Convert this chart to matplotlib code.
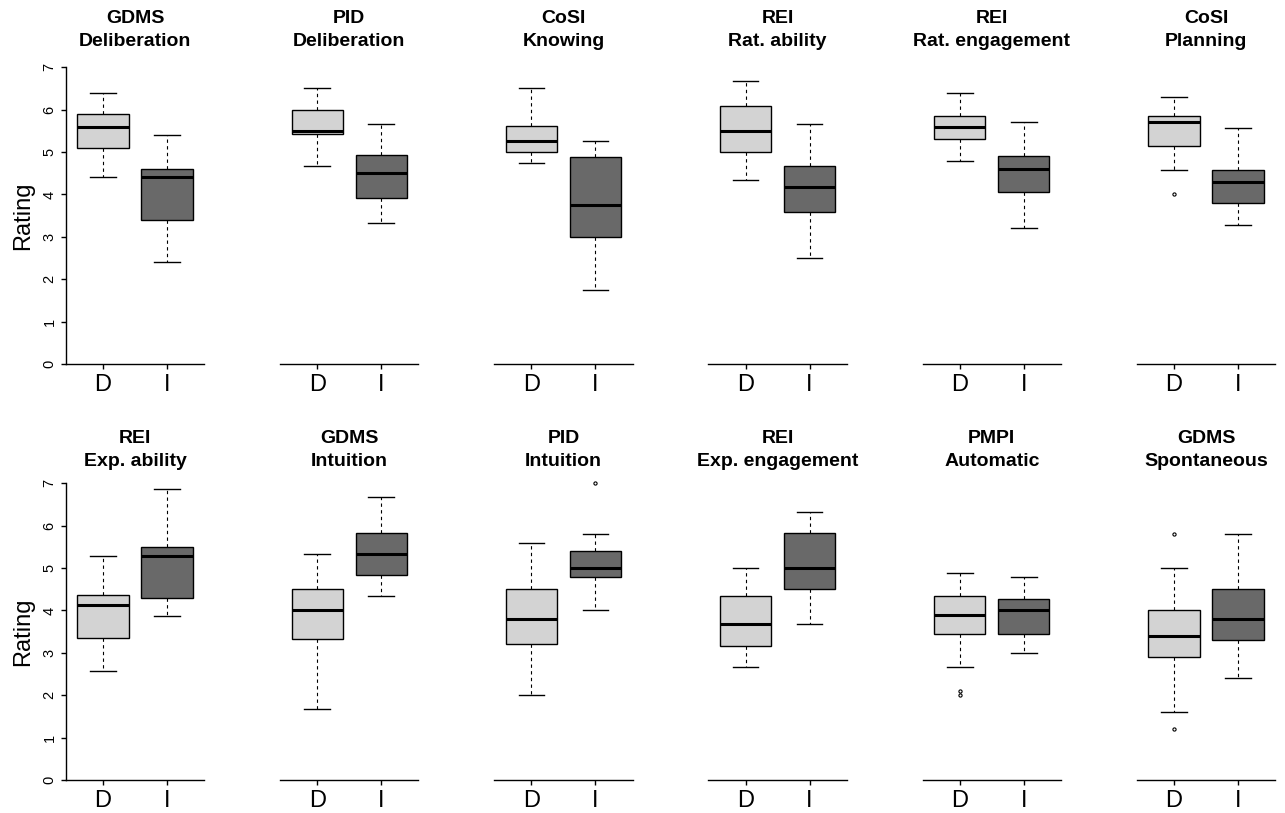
import numpy as np
import matplotlib
matplotlib.use("Agg")
import matplotlib.pyplot as plt

plt.rcParams['font.family'] = ['Liberation Sans', 'DejaVu Sans']

scale_top = ['GDMS', 'PID', 'CoSI', 'REI', 'REI', 'CoSI',
             'REI', 'GDMS', 'PID', 'REI', 'PMPI', 'GDMS']
scale_sub = ['Deliberation', 'Deliberation', 'Knowing', 'Rat. ability', 'Rat. engagement', 'Planning',
             'Exp. ability', 'Intuition', 'Intuition', 'Exp. engagement', 'Automatic', 'Spontaneous']
groups = ['D', 'I']

# D group: lower whisker, Q1, median, Q3, upper whisker
d_lo  = [4.40, 4.67, 4.75, 4.33, 4.80, 4.57, 2.57, 1.67, 2.00, 2.67, 2.67, 1.60]
d_q1  = [5.10, 5.42, 5.00, 5.00, 5.30, 5.14, 3.36, 3.33, 3.20, 3.17, 3.44, 2.90]
d_med = [5.60, 5.50, 5.25, 5.50, 5.60, 5.71, 4.14, 4.00, 3.80, 3.67, 3.89, 3.40]
d_q3  = [5.90, 6.00, 5.62, 6.08, 5.85, 5.86, 4.36, 4.50, 4.50, 4.33, 4.33, 4.00]
d_hi  = [6.40, 6.50, 6.50, 6.67, 6.40, 6.29, 5.29, 5.33, 5.60, 5.00, 4.89, 5.00]
d_out = [[], [], [], [], [], [4.0], [], [], [], [], [2.0, 2.11], [1.2, 5.8]]

# I group
i_lo  = [2.40, 3.33, 1.75, 2.50, 3.20, 3.29, 3.86, 4.33, 4.00, 3.67, 3.00, 2.40]
i_q1  = [3.40, 3.92, 3.00, 3.58, 4.05, 3.79, 4.29, 4.83, 4.80, 4.50, 3.44, 3.30]
i_med = [4.40, 4.50, 3.75, 4.17, 4.60, 4.29, 5.29, 5.33, 5.00, 5.00, 4.00, 3.80]
i_q3  = [4.60, 4.92, 4.88, 4.67, 4.90, 4.57, 5.50, 5.83, 5.40, 5.83, 4.28, 4.50]
i_hi  = [5.40, 5.67, 5.25, 5.67, 5.70, 5.57, 6.86, 6.67, 5.80, 6.33, 4.78, 5.80]
i_out = [[], [], [], [], [], [], [], [], [7.0], [], [], []]

W, H = 1285, 813
fig = plt.figure(figsize=(W / 100, H / 100), dpi=100)

row_top = [55.4, 471.4]
row_bot = [375.9, 791.9]
title_base = [46, 466]

for k in range(12):
    r, c = k // 6, k % 6
    x0 = 65.9 + 214.2 * c
    ax = fig.add_axes([x0 / W, 1 - row_bot[r] / H, 138.2 / W, (row_bot[r] - row_top[r]) / H])
    stats = [
        dict(whislo=d_lo[k], q1=d_q1[k], med=d_med[k], q3=d_q3[k], whishi=d_hi[k], fliers=d_out[k]),
        dict(whislo=i_lo[k], q1=i_q1[k], med=i_med[k], q3=i_q3[k], whishi=i_hi[k], fliers=i_out[k]),
    ]
    bp = ax.bxp(stats, positions=[1, 2], widths=0.8, capwidths=0.4, patch_artist=True,
                boxprops=dict(edgecolor='black', linewidth=1.0),
                medianprops=dict(color='black', linewidth=2.2, solid_capstyle='butt'),
                whiskerprops=dict(color='black', linewidth=0.8, linestyle=(0, (3, 3))),
                capprops=dict(color='black', linewidth=1.0),
                flierprops=dict(marker='o', markersize=2.3, markerfacecolor='none',
                                markeredgecolor='black', markeredgewidth=0.8))
    for patch, col in zip(bp['boxes'], ['#d3d3d3', '#696969']):
        patch.set_facecolor(col)

    ax.set_xlim(0.42, 2.58)
    ax.set_ylim(-0.28, 7.28)
    for s in ['top', 'right']:
        ax.spines[s].set_visible(False)
    ax.spines['bottom'].set_position(('data', 0))
    ax.spines['bottom'].set_linewidth(1.0)
    ax.set_xticks([1, 2])
    ax.set_xticklabels(groups, fontsize=17)
    ax.tick_params(axis='x', length=3.5, width=1.0, pad=4)
    if c == 0:
        ax.spines['left'].set_bounds(0, 7)
        ax.spines['left'].set_linewidth(1.0)
        ax.set_yticks(range(8))
        ax.set_yticklabels([str(v) for v in range(8)], rotation=90, va='center', fontsize=10.5)
        ax.tick_params(axis='y', length=3.8, width=1.0, pad=3)
        fig.text(23 / W, 1 - (row_bot[r] + row_top[r]) / 2 / H, 'Rating', rotation=90,
                 ha='center', va='center', fontsize=17)
    else:
        ax.spines['left'].set_visible(False)
        ax.set_yticks([])
    ax.patch.set_visible(False)

    xc = (x0 + 69.1) / W
    fig.text(xc, 1 - (title_base[r] - 22.7) / H, scale_top[k], ha='center', va='baseline',
             fontsize=14, fontweight='bold')
    fig.text(xc, 1 - title_base[r] / H, scale_sub[k], ha='center', va='baseline',
             fontsize=14, fontweight='bold')

fig.savefig('out.png', dpi=100, facecolor='white')
